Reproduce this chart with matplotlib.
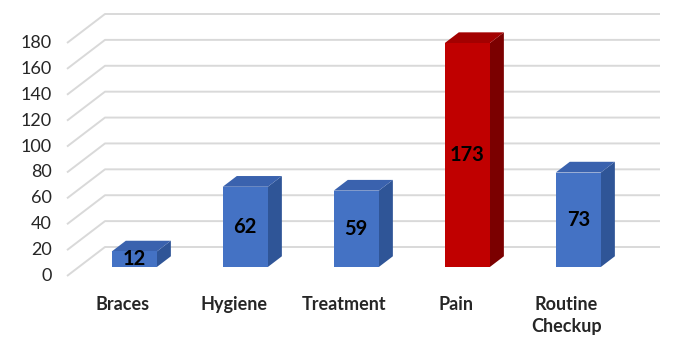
import matplotlib.pyplot as plt
from matplotlib.patches import Polygon

categories = ["Braces", "Hygiene", "Treatment", "Pain", "Routine\nCheckup"]
values = [12, 62, 59, 173, 73]
colors = ["blue", "blue", "blue", "red", "blue"]
ticks = list(range(0, 181, 20))

# face colours: front, top, side
shades = {
    "blue": ("#4472C4", "#3A62AE", "#2F5597"),
    "red": ("#C00000", "#A30000", "#7B0000"),
}

# pixel layout of the fake 3d box
px_per_unit = 233 / 180.0
x_first, x_step = 122.5, 111.0
y_zero = 276.0
depth_dx, depth_dy = 38.0, 29.0  # pixel shift from floor front to back wall

W, H = 676, 338
fig = plt.figure(figsize=(W / 100, H / 100), dpi=100)
ax = fig.add_axes([0, 0, 1, 1])
ax.set_xlim((0 - x_first) / x_step, (W - x_first) / x_step)
ax.set_ylim((y_zero - H) / px_per_unit, y_zero / px_per_unit)
ax.axis("off")

ddx = depth_dx / x_step
ddy = depth_dy / px_per_unit


def pt(x, v, d):
    # category position, value, depth (0 = front, 1 = back wall)
    return (x + ddx * d, v + ddy * d)


left = -0.5
right = len(categories) - 0.5
grid_kw = dict(color="#D9D9D9", lw=1.4, solid_capstyle="butt", zorder=1)
for t in ticks:
    x0, y0 = pt(left, t, 0)
    x1, y1 = pt(left, t, 1)
    x2, y2 = pt(right, t, 1)
    ax.plot([x0, x1, x2], [y0, y1, y2], **grid_kw)
    ax.text(x0 - 15 / x_step, y0, str(t), ha="right", va="center",
            fontsize=13, family="Lato", color="#262626")

half = 0.203
d0, d1 = 0.31, 0.68
for i, (v, c) in enumerate(zip(values, colors)):
    front, top, side = shades[c]
    a, b = i - half, i + half
    ax.add_patch(Polygon([pt(b, 0, d0), pt(b, 0, d1), pt(b, v, d1), pt(b, v, d0)],
                         closed=True, fc=side, ec="none", zorder=3))
    ax.add_patch(Polygon([pt(a, v, d0), pt(b, v, d0), pt(b, v, d1), pt(a, v, d1)],
                         closed=True, fc=top, ec="none", zorder=3))
    ax.add_patch(Polygon([pt(a, 0, d0), pt(b, 0, d0), pt(b, v, d0), pt(a, v, d0)],
                         closed=True, fc=front, ec="none", zorder=4))
    lx, ly = pt(i, v / 2.0, d0)
    ax.text(lx, ly, str(v), ha="center", va="center", fontsize=14.5,
            fontweight="bold", family="Lato", color="black", zorder=5)
    ax.text(i, -15.5, categories[i], ha="center", va="top", fontsize=13,
            fontweight="bold", family="Lato", color="#262626",
            linespacing=1.35)

fig.savefig("out.png", dpi=100)
